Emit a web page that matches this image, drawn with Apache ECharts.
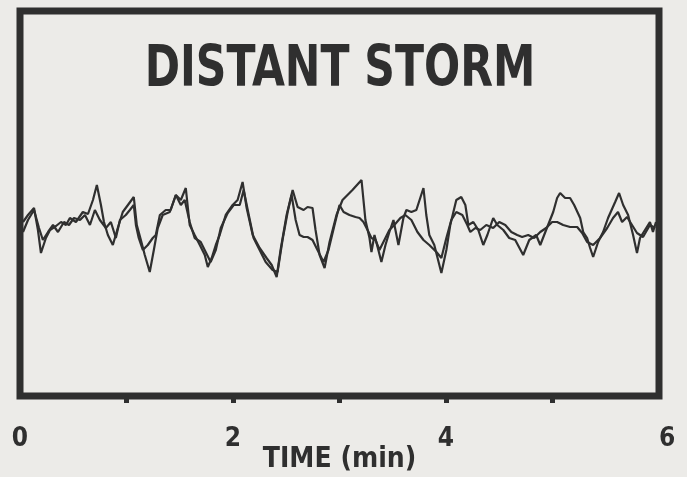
<!DOCTYPE html>
<html>
<head>
<meta charset="utf-8">
<script src="https://cdn.jsdelivr.net/npm/echarts@6/dist/echarts.min.js"></script>
<style>
  html, body { margin: 0; padding: 0; background: #ecebe8; }
  #chart { width: 687px; height: 477px; }
</style>
</head>
<body>
<div id="chart"></div>
<script>
// time in seconds, amplitude in arbitrary units
var timeA = [1.7, 4.5, 7.9, 10.1, 11.8, 14.6, 16.9, 20.3, 23.1, 25.9,
  28.1, 31.5, 35.4, 38.3, 41.1, 43.3, 45.6, 47.3, 49.5, 52.3,
  55.1, 57.9, 60.8, 64.1, 65.8, 68.1, 70.3, 73.1, 75.4, 77.6,
  80.4, 84.4, 87.8, 90.6, 93.4, 95.6, 98.4, 101.3, 104.1, 105.8,
  108.0, 110.3, 112.5, 115.9, 119.8, 122.6, 125.4, 127.7, 131.1, 135.0,
  138.9, 141.8, 144.6, 146.8, 150.2, 153.6, 156.4, 159.8, 162.0, 164.8,
  166.5, 168.8, 171.6, 174.4, 178.3, 181.7, 187.3, 192.4, 194.6, 196.9,
  198.0, 199.7, 201.9, 203.6, 205.9, 208.1, 210.4, 213.2, 216.0, 217.7,
  220.5, 223.3, 227.3, 228.9, 230.6, 233.4, 237.4, 240.2, 242.4, 245.8,
  248.6, 250.9, 252.6, 255.4, 258.2, 261.0, 263.3, 266.6, 268.9, 272.3,
  275.6, 279.0, 283.5, 286.9, 290.8, 293.1, 296.4, 300.4, 302.6, 304.3,
  307.1, 309.9, 312.2, 315.6, 317.3, 319.5, 321.2, 322.9, 325.7, 328.5,
  331.3, 335.3, 337.5, 339.8, 342.6, 345.4, 347.6, 349.3, 352.1, 354.9,
  356.6, 358.3];
var traceA = [3, 10, 17, -5, -28, -13, -5, -1, 3, 0,
  7, 3, 13, 11, 25, 40, 20, 3, -10, -20,
  -3, 13, 20, 28, 0, -15, -30, -47, -25, -3,
  10, 13, 30, 25, 37, 0, -10, -20, -30, -42,
  -33, -20, -10, 10, 20, 25, 43, 17, -10, -23,
  -33, -40, -52, -25, 10, 35, 18, 15, 18, 17,
  -5, -30, -43, -17, 10, 25, 35, 45, 5, -13,
  -27, -10, -25, -37, -20, -7, 5, -20, 7, 15,
  13, 15, 37, 10, -10, -20, -48, -25, 0, 25,
  28, 20, 0, 3, -5, -20, -10, 7, 0, -5,
  -13, -15, -30, -15, -10, -20, -5, 13, 27, 32,
  27, 27, 20, 7, -7, -13, -23, -32, -17, -7,
  7, 23, 32, 20, 10, -10, -28, -13, -5, 3,
  -7, 3];

var timeB = [1.7, 4.5, 7.9, 10.7, 12.9, 15.8, 18.6, 21.4, 24.8, 27.6,
  30.4, 33.8, 36.6, 39.4, 42.2, 45.0, 48.4, 51.2, 54.0, 56.3,
  59.6, 61.9, 64.1, 65.3, 66.9, 69.2, 72.0, 74.8, 76.5, 78.8,
  82.1, 84.9, 87.8, 90.6, 92.8, 95.6, 98.4, 101.8, 104.6, 107.4,
  110.3, 113.1, 117.0, 120.4, 123.8, 126.0, 128.3, 131.6, 135.0, 138.4,
  142.3, 145.1, 147.9, 150.8, 153.0, 155.3, 157.5, 159.8, 162.0, 164.8,
  167.6, 171.0, 173.8, 177.2, 180.0, 182.3, 185.6, 189.0, 191.3, 193.5,
  195.8, 198.0, 200.3, 202.5, 205.3, 208.1, 210.9, 214.3, 217.1, 220.5,
  223.9, 227.3, 230.6, 234.6, 237.4, 240.2, 243.0, 245.8, 249.2, 252.0,
  253.7, 256.5, 259.3, 262.7, 266.6, 270.0, 273.4, 276.8, 280.1, 282.9,
  286.3, 289.7, 293.1, 296.4, 299.8, 302.6, 306.0, 309.9, 313.9, 316.7,
  319.5, 322.9, 326.8, 330.8, 334.1, 336.9, 339.2, 342.0, 344.8, 347.6,
  351.0, 354.9, 357.8];
var traceB = [-7, 5, 15, -3, -15, -7, 0, -7, 3, 0,
  7, 5, 10, 0, 15, 5, -3, 3, -13, 5,
  10, 15, 20, 0, -13, -25, -20, -13, -10, 10,
  15, 15, 30, 20, 25, 3, -13, -17, -27, -37,
  -25, -3, 12, 20, 20, 35, 15, -13, -25, -37,
  -45, -47, -15, 13, 30, 5, -10, -12, -12, -15,
  -25, -37, -25, 0, 20, 13, 10, 8, 7, 3,
  -5, -13, -15, -25, -15, -5, 0, 7, 10, 5,
  -7, -15, -20, -27, -33, -13, 5, 13, 10, 0,
  -7, -3, -5, 0, -3, 3, 0, -7, -10, -12,
  -10, -13, -7, -3, 3, 3, 0, -2, -2, -8,
  -17, -20, -13, -3, 7, 13, 3, 8, 0, -8,
  -12, 0, -3];

var xLabels = [0, 120, 240, 360];
var xTicks = [60, 120, 180, 240, 300];

var ink = '#2f2f2f';
var font = '"DejaVu Sans Condensed", "Liberation Sans", sans-serif';

function zip(t, v) {
  var out = [];
  for (var i = 0; i < t.length; i++) out.push([t[i], v[i]]);
  return out;
}

var chart = echarts.init(document.getElementById('chart'));
var option = {
  backgroundColor: '#ecebe8',
  animation: false,
  graphic: [
    {
      // condensed headline, squeezed like the original typeface
      type: 'text',
      x: 340,
      y: 71,
      scaleX: 0.83,
      style: {
        text: 'DISTANT STORM',
        align: 'center',
        verticalAlign: 'middle',
        font: 'bold 57px ' + font,
        fill: ink
      }
    }
  ],
  grid: {
    left: 20,
    right: 28,
    top: 11,
    bottom: 81,
    outerBoundsMode: 'none',
    show: true,
    borderColor: ink,
    borderWidth: 7,
    backgroundColor: 'transparent'
  },
  xAxis: {
    type: 'value',
    min: 0,
    max: 360,
    name: 'TIME (min)',
    nameLocation: 'middle',
    nameGap: 50,
    nameMoveOverlap: false,
    nameTextStyle: {
      fontFamily: font,
      fontWeight: 'bold',
      fontSize: 28,
      color: ink
    },
    axisLine: { show: false, onZero: false },
    splitLine: { show: false },
    axisTick: {
      show: true,
      inside: false,
      length: 7,
      customValues: xTicks,
      lineStyle: { color: ink, width: 5 }
    },
    axisLabel: {
      margin: 30,
      customValues: xLabels,
      alignMaxLabel: 'left',
      fontFamily: font,
      fontWeight: 'bold',
      fontSize: 26,
      color: ink,
      formatter: function (v) { return String(v / 60); }
    }
  },
  yAxis: {
    type: 'value',
    min: -171,
    max: 214,
    show: false,
    splitLine: { show: false }
  },
  series: [
    {
      type: 'line',
      data: zip(timeA, traceA),
      showSymbol: false,
      lineStyle: { color: ink, width: 2.2 }
    },
    {
      type: 'line',
      data: zip(timeB, traceB),
      showSymbol: false,
      lineStyle: { color: ink, width: 2.2 }
    }
  ]
};
chart.setOption(option);
</script>
</body>
</html>
